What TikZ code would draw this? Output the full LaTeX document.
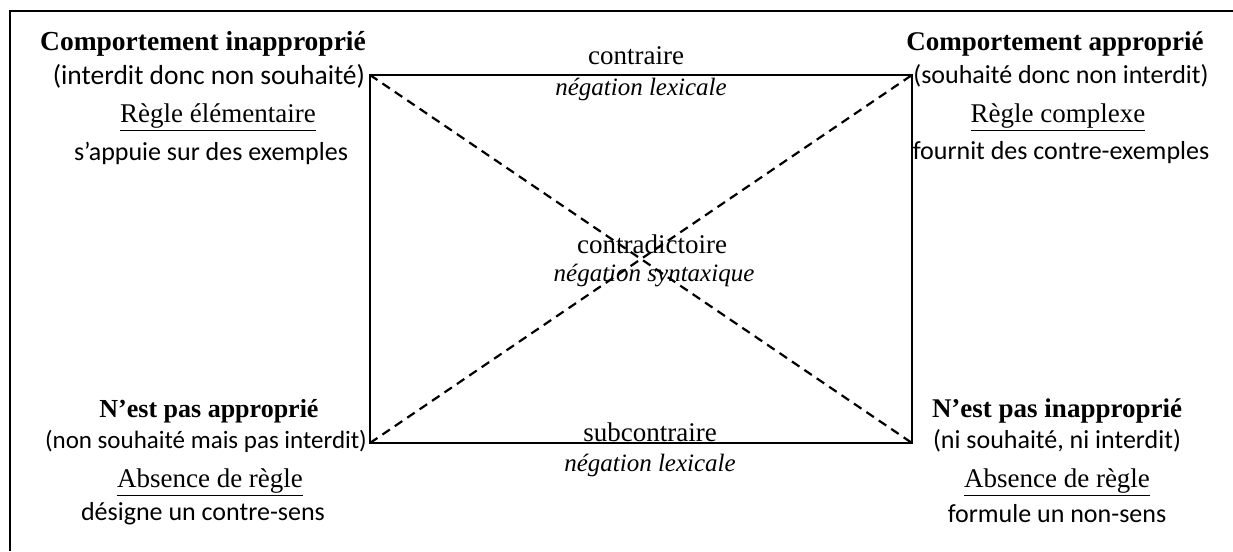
\documentclass[tikz,border=0pt]{standalone}
\usepackage{fontspec}
\setmainfont{Liberation Serif}
\newfontfamily\calibri{Carlito}
\usepackage{tikz}
\tikzset{
  titre/.style    = {font=\fontsize{27}{29}\selectfont\bfseries, inner sep=0pt},
  glose/.style    = {font=\fontsize{26}{28}\selectfont\calibri, inner sep=0pt},
  regle/.style    = {font=\fontsize{27}{29}\selectfont, inner sep=0pt},
  relation/.style = {font=\fontsize{27}{29}\selectfont, inner sep=0pt},
  negation/.style = {font=\fontsize{25}{27}\selectfont\itshape, inner sep=0pt},
  cadre/.style    = {line width=2.4pt},
  diag/.style     = {line width=2.2pt, dash pattern=on 9pt off 6pt}
}

\begin{document}
\begin{tikzpicture}[x=1pt,y=-1pt]
 \useasboundingbox (0,0) rectangle (1233,551);

 % frame around the figure
 \coordinate (f1) at (10,551);
 \coordinate (f2) at (10,11);
 \coordinate (f3) at (1233,11);
 \draw[cadre] (f1) -- (f2) -- (f3);

 % square of oppositions
 \coordinate (A) at (370,75);
 \coordinate (B) at (912,75);
 \coordinate (C) at (912,443);
 \coordinate (D) at (370,443);
 \draw[cadre] (A) -- (B) -- (C) -- (D) -- cycle;
 \draw[diag] (A) -- (C);
 \draw[diag] (D) -- (B);

 % relations
 \node[relation] (contraire) at (636,56) {contraire};
 \node[negation] (neglex1) at (641,89) {négation lexicale};
 \node[relation] (contradict) at (652,244) {contradictoire};
 \node[negation] (negsyn) at (654,276) {négation syntaxique};
 \node[relation] (subcontraire) at (650,432) {subcontraire};
 \node[negation] (neglex2) at (650,465) {négation lexicale};

 % top left
 \node[titre] (inappr) at (203,44) {\fontsize{27.5}{29}\selectfont Comportement inapproprié};
 \node[glose] (inapprg) at (209,76) {\fontsize{27.5}{29}\selectfont (interdit donc non souhaité)};
 \node[regle] (elem) at (218,117) {\underline{Règle élémentaire}};
 \node[glose] (eleme) at (211,153) {s’appuie sur des exemples};

 % top right
 \node[titre] (appr) at (1055,44) {Comportement approprié};
 \node[glose] (apprg) at (1061,76) {(souhaité donc non interdit)};
 \node[regle] (compl) at (1058,117) {\underline{Règle complexe}};
 \node[glose] (comple) at (1061,153) {fournit des contre-exemples};

 % bottom left
 \node[titre] (pasappr) at (209,411) {\fontsize{26}{28}\selectfont N’est pas approprié};
 \node[glose] (pasapprg) at (206,441) {\fontsize{25}{27}\selectfont (non souhaité mais pas interdit)};
 \node[regle] (abs1) at (210,482) {\underline{Absence de règle}};
 \node[glose] (abs1e) at (203,514) {désigne un contre-sens};

 % bottom right
 \node[titre] (pasinappr) at (1057,411) {N’est pas inapproprié};
 \node[glose] (pasinapprg) at (1057,441) {(ni souhaité, ni interdit)};
 \node[regle] (abs2) at (1057,482) {\underline{Absence de règle}};
 \node[glose] (abs2e) at (1057,514) {formule un non-sens};
\end{tikzpicture}
\end{document}
